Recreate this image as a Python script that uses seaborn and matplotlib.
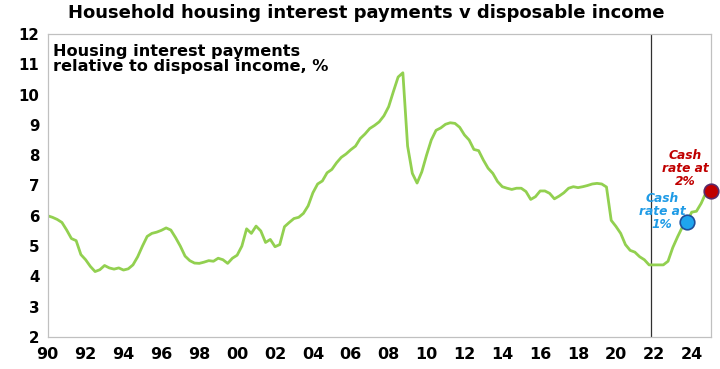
import numpy as np
import pandas as pd
import matplotlib
matplotlib.use("Agg")
import matplotlib.pyplot as plt
import seaborn as sns

# Quarterly data, 1990 Q1 .. 2025 Q1 (decimal years)
values = [
    6.00, 5.95, 5.88, 5.78,   # 1990
    5.53, 5.25, 5.18, 4.72,   # 1991
    4.55, 4.33, 4.16, 4.22,   # 1992
    4.36, 4.28, 4.24, 4.28,   # 1993
    4.21, 4.25, 4.38, 4.65,   # 1994
    5.00, 5.32, 5.42, 5.46,   # 1995
    5.52, 5.60, 5.53, 5.28,   # 1996
    5.00, 4.67, 4.52, 4.44,   # 1997
    4.43, 4.47, 4.52, 4.50,   # 1998
    4.60, 4.55, 4.43, 4.60,   # 1999
    4.70, 5.00, 5.57, 5.42,   # 2000
    5.66, 5.50, 5.12, 5.22,   # 2001
    4.98, 5.05, 5.64, 5.78,   # 2002
    5.91, 5.95, 6.08, 6.33,   # 2003
    6.76, 7.05, 7.15, 7.42,   # 2004
    7.53, 7.75, 7.93, 8.04,   # 2005
    8.18, 8.30, 8.55, 8.70,   # 2006
    8.88, 8.98, 9.10, 9.30,   # 2007
    9.60, 10.10, 10.58, 10.72,  # 2008
    8.30, 7.40, 7.08, 7.45,   # 2009
    8.00, 8.50, 8.82, 8.90,   # 2010
    9.02, 9.07, 9.05, 8.92,   # 2011
    8.67, 8.50, 8.19, 8.15,   # 2012
    7.84, 7.57, 7.40, 7.13,   # 2013
    6.96, 6.91, 6.87, 6.91,   # 2014
    6.91, 6.80, 6.54, 6.63,   # 2015
    6.82, 6.82, 6.74, 6.56,   # 2016
    6.65, 6.76, 6.91, 6.96,   # 2017
    6.93, 6.96, 7.00, 7.05,   # 2018
    7.07, 7.05, 6.95, 5.85,   # 2019
    5.65, 5.42, 5.05, 4.86,   # 2020
    4.80, 4.65, 4.55, 4.38,   # 2021
    4.38, 4.38, 4.38, 4.50,   # 2022
    4.95, 5.30, 5.62, 5.80,   # 2023
    6.12, 6.15, 6.41, 6.76,   # 2024
    6.82,                     # 2025
]
years = 1990 + 0.25 * np.arange(len(values))

marker_years = [2023.75, 2025.0]
marker_values = [5.80, 6.82]
marker_fill = ["#1FA5EE", "#C00000"]
marker_edge = ["#1F4E9A", "#5A2A6A"]
marker_labels = ["Cash\nrate at\n1%", "Cash\nrate at\n2%"]
label_colors = ["#1F9BE6", "#C00000"]

vline_year = 2021.87
xtick_years = list(range(1990, 2025, 2))
xtick_labels = [f"{y % 100:02d}" for y in xtick_years]
yticks = list(range(2, 13))

title = "Household housing interest payments v disposable income"
inner_label = "Housing interest payments\nrelative to disposal income, %"

df = pd.DataFrame({"year": years, "value": values})

sns.set_theme(style="white")
plt.rcParams["font.family"] = ["DejaVu Sans"]
plt.rcParams["text.color"] = "black"
plt.rcParams["xtick.color"] = "black"
plt.rcParams["ytick.color"] = "black"

fig = plt.figure(figsize=(7.2, 3.69), dpi=100)
ax = fig.add_axes([0.0663, 0.0867, 0.9207, 0.8212])

sns.lineplot(data=df, x="year", y="value", ax=ax, color="#92D050", linewidth=2.0)

ax.axvline(vline_year, color="#303030", linewidth=0.9, zorder=1)

for xv, yv, fc, ec in zip(marker_years, marker_values, marker_fill, marker_edge):
    ax.scatter([xv], [yv], s=110, color=fc, edgecolor=ec, linewidth=1.2, zorder=5, clip_on=False)

ax.text(2022.45, 6.15, marker_labels[0], color=label_colors[0], fontsize=8.8,
        fontweight="bold", fontstyle="italic", ha="center", va="center", linespacing=1.0)
ax.text(2023.65, 7.55, marker_labels[1], color=label_colors[1], fontsize=8.8,
        fontweight="bold", fontstyle="italic", ha="center", va="center", linespacing=1.0)

ax.set_xlim(1990, 2025)
ax.set_ylim(2, 12)
ax.set_xticks(xtick_years)
ax.set_xticklabels(xtick_labels, fontsize=11.5, fontweight="bold", color="black")
ax.set_yticks(yticks)
ax.set_yticklabels([str(v) for v in yticks], fontsize=10.8, fontweight="bold", color="black")
ax.set_xlabel("")
ax.set_ylabel("")
ax.tick_params(axis="both", direction="out", length=4, width=0.8, color="#A0A0A0",
               labelcolor="black", pad=2)
ax.tick_params(axis="x", pad=3)
for s in ax.spines.values():
    s.set_color("#C0C0C0")
    s.set_linewidth(0.9)
    s.set_visible(True)

ax.text(0.008, 0.968, inner_label, transform=ax.transAxes, fontsize=11.6,
        fontweight="bold", ha="left", va="top", linespacing=1.05, color="black")

fig.text(0.509, 0.966, title, fontsize=13.0, fontweight="bold", ha="center", va="center",
         color="black")

fig.savefig("out.png", dpi=100)
